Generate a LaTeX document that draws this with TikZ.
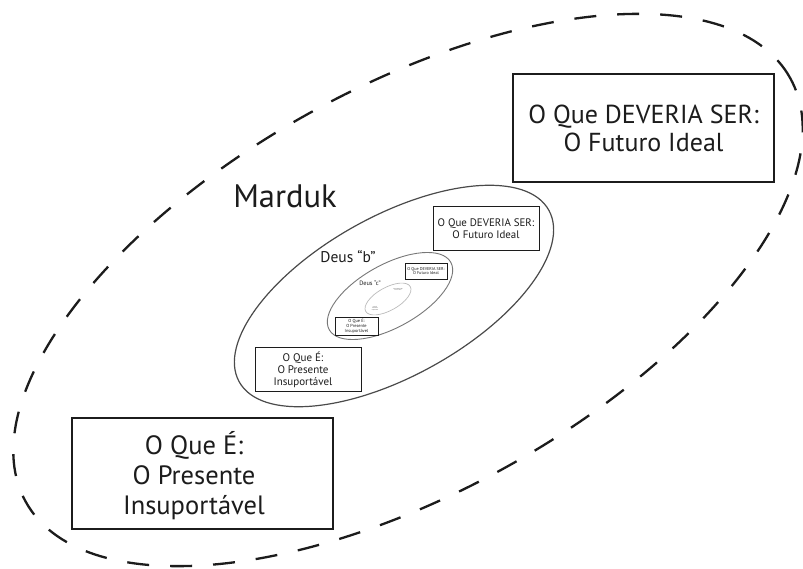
\documentclass[tikz,border=0pt]{standalone}
\usepackage{fontspec}
\setmainfont{PT Sans}
\usetikzlibrary{shapes.geometric}
\definecolor{ink}{HTML}{1C1C1C}
\definecolor{rimA}{HTML}{4A4A4A}
\definecolor{rimB}{HTML}{777777}
\definecolor{rimC}{HTML}{BBBBBB}
\tikzset{
  godring/.style={ellipse, inner sep=0pt, outer sep=0pt, rotate=29},
  framebox/.style={draw=ink, rectangle, inner sep=0pt, align=center, text=ink},
  label/.style={text=ink, inner sep=0pt, anchor=base},
  boxtext/.style={text=ink, inner sep=0pt, align=center},
}
\newcommand{\fs}[2]{\fontsize{#1pt}{#2pt}\selectfont}
\begin{document}
\begin{tikzpicture}[x=1pt,y=-1pt]
  \fill[white] (0,0) rectangle (803,569);
  \useasboundingbox (0,0) rectangle (803,569);

  % outer dashed realm
  \node[godring, draw=ink, line width=2.3pt, dash pattern=on 22pt off 21pt,
        minimum width=874pt, minimum height=405pt] (outer) at (408,290) {};

  % Marduk and the nested gods
  \node[godring, draw=rimA, line width=1.2pt,
        minimum width=354pt, minimum height=160pt] (marduk) at (394,296) {};
  \node[godring, draw=rimB, line width=0.9pt,
        minimum width=139pt, minimum height=63pt] (deusb) at (390,296) {};
  \node[godring, draw=rimC, line width=0.7pt,
        minimum width=51pt, minimum height=23pt] (deusc) at (388,299) {};

  % large frames
  \node[framebox, line width=1.8pt, minimum width=261pt, minimum height=108pt,
        font=\fs{26}{28}] (futuro) at (643.5,128) {O Que DEVERIA SER:\\O Futuro Ideal};
  \node[framebox, line width=1.8pt, minimum width=261pt, minimum height=111pt] (presente) at (202.5,473.5) {};
  \node[boxtext, font=\fs{26.5}{30}] (presentetxt) at (194,476) {O Que É:\\O Presente\\Insuportável};

  % Marduk level frames
  \node[framebox, line width=1pt, minimum width=106pt, minimum height=44pt,
        font=\fs{10.9}{12}] (futurob) at (486,229) {O Que DEVERIA SER:\\O Futuro Ideal};
  \node[framebox, line width=1pt, minimum width=106pt, minimum height=44pt] (presenteb) at (308,369) {};
  \node[boxtext, font=\fs{11}{12}] (presentebtxt) at (303,369.5) {O Que É:\\O Presente\\Insuportável};

  % Deus b level frames
  \node[framebox, line width=0.6pt, minimum width=42pt, minimum height=16pt,
        font=\fs{4.2}{4.8}] (futuroc) at (426,271) {O Que DEVERIA SER:\\O Futuro Ideal};
  \node[framebox, line width=0.6pt, minimum width=43pt, minimum height=18pt,
        font=\fs{4.4}{5}] (presentec) at (356.5,326) {O Que É:\\O Presente\\Insuportável};

  % Deus c level texts
  \node[boxtext, font=\fs{1.1}{1.4}] (futurod) at (398,289.5) {O Que DEVERIA SER:\\O Futuro Ideal};
  \node[boxtext, font=\fs{1.2}{1.5}] (presented) at (375,308.5) {O Que É:\\O Presente\\Insuportável};

  % names
  \node[label, font=\fs{32.5}{35}] (lmarduk) at (285,208) {Marduk};
  \node[label, font=\fs{15.5}{17}] (lb) at (348,263) {Deus “b”};
  \node[label, font=\fs{6.3}{7}] (lc) at (370,286) {Deus “c”};
\end{tikzpicture}
\end{document}
